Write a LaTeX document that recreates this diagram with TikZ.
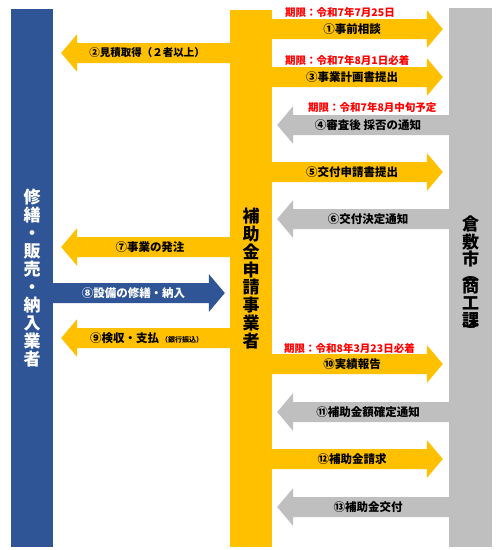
\documentclass[tikz,border=0pt]{standalone}
\usepackage{fontspec}
\usepackage{graphicx}
\setmainfont{Noto Sans CJK JP}
\usetikzlibrary{calc}
\definecolor{yel}{HTML}{FFC000}
\definecolor{blu}{HTML}{2F5597}
\definecolor{gry}{HTML}{BFBFBF}
\definecolor{deadline}{HTML}{FF0000}
% right-pointing block arrow: colour, from node, to node, y, gap
\newcommand\arrR[5]{%
 \fill[#1] ($(#2.east |- 0,#4-10)+(-1,0)$) -- ($(#3.west |- 0,#4-10)+(-#5-16,0)$)
  -- ($(#3.west |- 0,#4-19)+(-#5-16,0)$) -- ($(#3.west |- 0,#4)+(-#5,0)$)
  -- ($(#3.west |- 0,#4+19)+(-#5-16,0)$) -- ($(#3.west |- 0,#4+10)+(-#5-16,0)$)
  -- ($(#2.east |- 0,#4+10)+(-1,0)$) -- cycle;}
% left-pointing block arrow: colour, from node, to node, y, gap
\newcommand\arrL[5]{%
 \fill[#1] ($(#2.west |- 0,#4-10)+(1,0)$) -- ($(#3.east |- 0,#4-10)+(#5+16,0)$)
  -- ($(#3.east |- 0,#4-19)+(#5+16,0)$) -- ($(#3.east |- 0,#4)+(#5,0)$)
  -- ($(#3.east |- 0,#4+19)+(#5+16,0)$) -- ($(#3.east |- 0,#4+10)+(#5+16,0)$)
  -- ($(#2.west |- 0,#4+10)+(1,0)$) -- cycle;}
\tikzset{
 bar/.style={rectangle, inner sep=0pt, minimum width=42pt, align=center,
   font=\fontsize{17}{17.9}\selectfont\bfseries},
 lbl/.style={inner sep=0pt, font=\fontsize{11.5}{12}\selectfont\bfseries, text=black},
 due/.style={inner sep=0pt, anchor=west, font=\fontsize{10.5}{11}\selectfont\bfseries, text=deadline},
}
\begin{document}
\begin{tikzpicture}[x=1pt, y=-1pt]
\useasboundingbox (0,0) rectangle (504,550);
% bars
\node[bar, fill=blu, text=white, minimum height=538pt] (B) at (32,278) {修\\繕\\・\\販\\売\\・\\納\\入\\業\\者};
\node[bar, fill=yel, text=black, minimum height=537pt] (Y) at (251,278.5) {補\\助\\金\\申\\請\\事\\業\\者};
\node[bar, fill=gry, text=black, minimum width=43pt, minimum height=539pt] (G) at (470.5,277.5)
 {倉\\敷\\市\\[-3pt]\rotatebox[origin=c]{-90}{（}\\[-6pt]商\\[-1pt]工\\[-1pt]課\\[-7pt]\rotatebox[origin=c]{-90}{）}};
% arrows
\arrR{yel}{Y}{G}{29}{6}
\arrR{yel}{Y}{G}{77}{6}
\arrL{gry}{G}{Y}{125}{5}
\arrR{yel}{Y}{G}{172}{6}
\arrL{gry}{G}{Y}{219}{5}
\arrR{yel}{Y}{G}{364}{6}
\arrL{gry}{G}{Y}{412}{5}
\arrR{yel}{Y}{G}{459}{6}
\arrL{gry}{G}{Y}{507}{5}
\arrL{yel}{Y}{B}{53}{8}
\arrL{yel}{Y}{B}{247}{8}
\arrR{blu}{B}{Y}{293}{5}
\arrL{yel}{Y}{B}{338}{8}
% labels
\node[lbl] (l1) at (352,29) {①事前相談};
\node[lbl] (l3) at (352,77) {③事業計画書提出};
\node[lbl] (l4) at (368,125) {④審査後 採否の通知};
\node[lbl] (l5) at (352,172) {⑤交付申請書提出};
\node[lbl] (l6) at (368,219) {⑥交付決定通知};
\node[lbl] (l10) at (352,364) {⑩実績報告};
\node[lbl] (l11) at (368,412) {⑪補助金額確定通知};
\node[lbl] (l12) at (352,459) {⑫補助金請求};
\node[lbl] (l13) at (368,507) {⑬補助金交付};
\node[lbl, font=\fontsize{10.5}{11}\selectfont\bfseries] (l2) at (147,53) {②見積取得（２者以上）};
\node[lbl] (l7) at (150,247) {⑦事業の発注};
\node[lbl, text=white] (l8) at (133.5,293) {⑧設備の修繕・納入};
\node[lbl, anchor=west] (l9) at (90,338) {⑨検収・支払\,{\fontsize{7}{7}\selectfont（銀行振込）}};
% deadlines
\node[due] (d1) at (285,12) {期限：令和7年7月25日};
\node[due] (d3) at (285,60) {期限：令和7年8月1日必着};
\node[due] (d4) at (308,108) {期限：令和7年8月中旬予定};
\node[due] (d10) at (284,348) {期限：令和8年3月23日必着};
\end{tikzpicture}
\end{document}
